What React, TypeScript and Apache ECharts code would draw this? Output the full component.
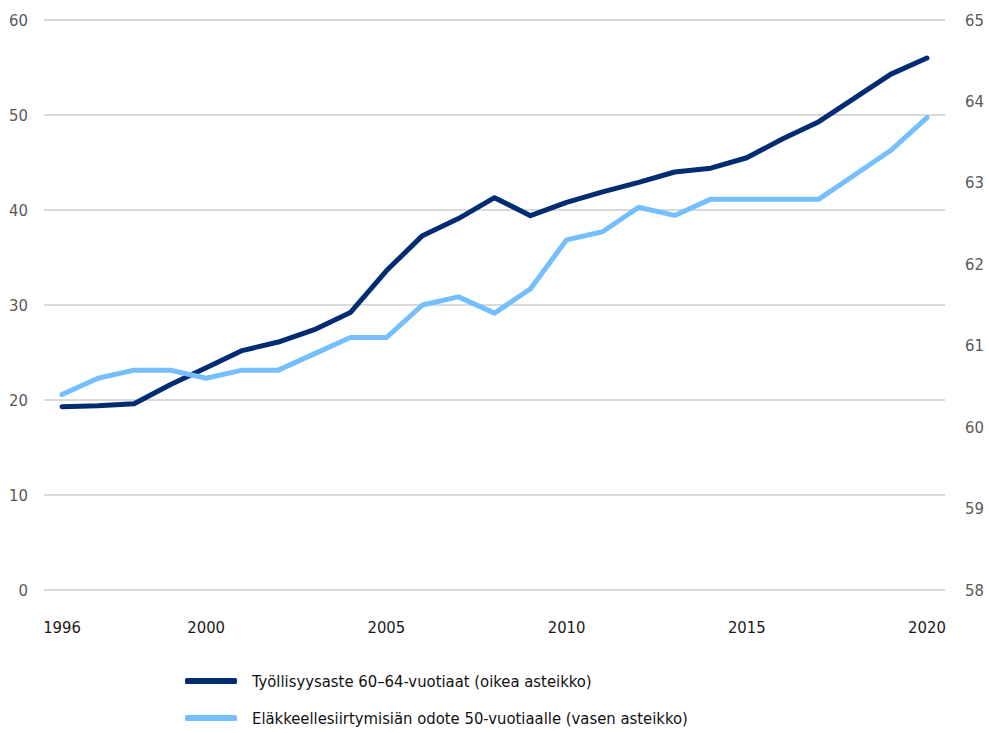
import React, { useEffect, useRef } from "react";
import * as echarts from "echarts";

const years = [
  "1996", "1997", "1998", "1999", "2000", "2001", "2002", "2003", "2004", "2005",
  "2006", "2007", "2008", "2009", "2010", "2011", "2012", "2013", "2014", "2015",
  "2016", "2017", "2018", "2019", "2020",
];

const employmentRate = [
  19.3, 19.4, 19.6, 21.6, 23.4, 25.2, 26.1, 27.4, 29.2, 33.6,
  37.3, 39.1, 41.3, 39.4, 40.8, 41.9, 42.9, 44.0, 44.4, 45.5,
  47.5, 49.3, 51.8, 54.3, 56.0,
];

const retirementAge = [
  60.4, 60.6, 60.7, 60.7, 60.6, 60.7, 60.7, 60.9, 61.1, 61.1,
  61.5, 61.6, 61.4, 61.7, 62.3, 62.4, 62.7, 62.6, 62.8, 62.8,
  62.8, 62.8, 63.1, 63.4, 63.8,
];

const seriesNames = [
  "Työllisyysaste 60–64-vuotiaat (oikea asteikko)",
  "Eläkkeellesiirtymisiän odote 50-vuotiaalle (vasen asteikko)",
];

const FONT = "'DejaVu Sans Condensed', 'Liberation Sans Narrow', sans-serif";
const DARK = "#002D72";
const LIGHT = "#75BFFF";

export default function App() {
  const ref = useRef<HTMLDivElement>(null);

  useEffect(() => {
    if (!ref.current) return;
    const chart = echarts.init(ref.current, undefined, { renderer: "svg" });
    chart.setOption({
      animation: false,
      backgroundColor: "#ffffff",
      textStyle: { fontFamily: FONT },
      grid: { left: 44, right: 44, top: 20, bottom: 143, containLabel: false },
      legend: {
        orient: "vertical",
        left: 185,
        top: 671,
        height: 62,
        itemGap: 17,
        itemWidth: 52,
        itemHeight: 6,
        padding: 0,
        icon: "roundRect",
        textStyle: { fontFamily: FONT, fontSize: 16.5, color: "#111111", padding: [0, 0, 0, 10], lineHeight: 20 },
        data: seriesNames,
      },
      xAxis: {
        type: "category",
        data: years,
        boundaryGap: true,
        axisLine: { show: false },
        axisTick: { show: false },
        axisLabel: {
          interval: (idx: number, val: string) => {
            const y = Number(val);
            return y === 1996 || y % 5 === 0;
          },
          margin: 29,
          fontSize: 16.5,
          color: "#1a1a1a",
          fontFamily: FONT,
        },
      },
      yAxis: [
        {
          type: "value",
          min: 0,
          max: 60,
          interval: 10,
          axisLine: { show: false },
          axisTick: { show: false },
          splitLine: { lineStyle: { color: "#d9d9d9", width: 2 } },
          axisLabel: { margin: 16, fontSize: 16.5, color: "#595959", fontFamily: FONT },
        },
        {
          type: "value",
          min: 58,
          max: 65,
          interval: 1,
          position: "right",
          axisLine: { show: false },
          axisTick: { show: false },
          splitLine: { show: false },
          axisLabel: { margin: 20, fontSize: 16.5, color: "#595959", fontFamily: FONT },
        },
      ],
      series: [
        {
          name: seriesNames[0],
          type: "line",
          yAxisIndex: 0,
          data: employmentRate,
          symbol: "none",
          lineStyle: { color: DARK, width: 5, cap: "round", join: "round" },
          itemStyle: { color: DARK },
        },
        {
          name: seriesNames[1],
          type: "line",
          yAxisIndex: 1,
          data: retirementAge,
          symbol: "none",
          lineStyle: { color: LIGHT, width: 5, cap: "round", join: "round" },
          itemStyle: { color: LIGHT },
        },
      ],
    });
    return () => chart.dispose();
  }, []);

  return (
    <div
      ref={ref}
      style={{ position: "fixed", left: 0, top: 0, width: 989, height: 733, background: "#fff" }}
    />
  );
}
